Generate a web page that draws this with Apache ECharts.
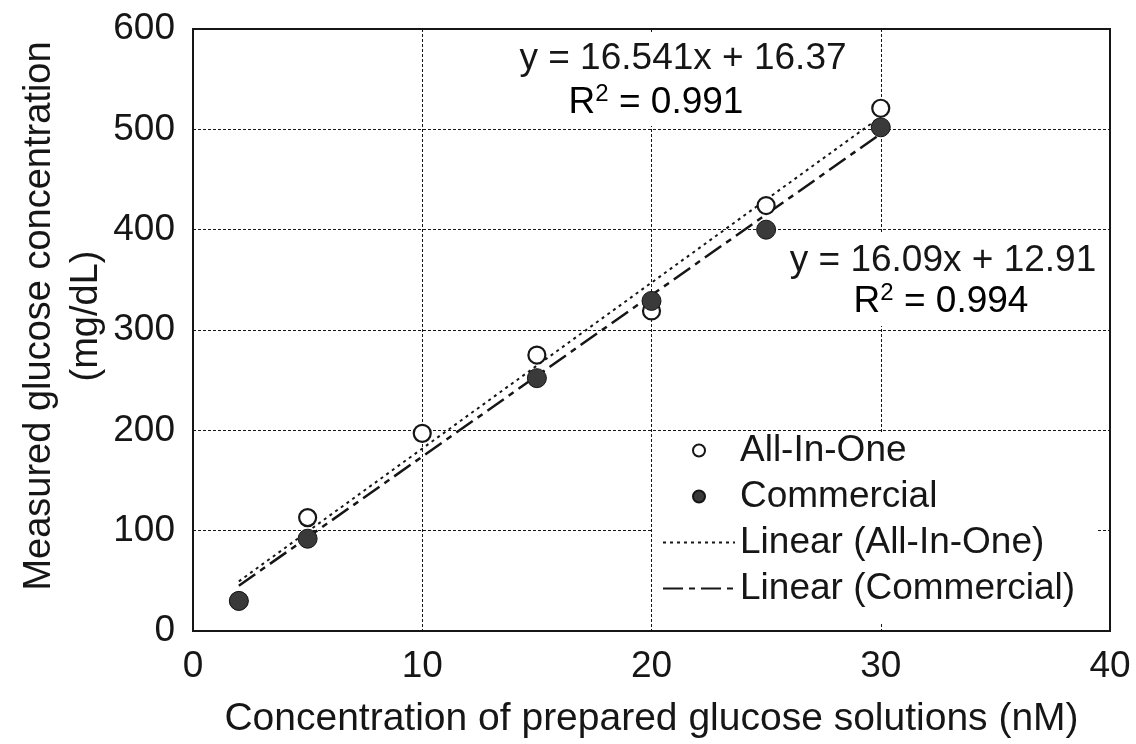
<!DOCTYPE html>
<html>
<head>
<meta charset="utf-8">
<script src="https://cdn.jsdelivr.net/npm/echarts@6/dist/echarts.min.js"></script>
<style>
html,body{margin:0;padding:0;background:#fff;}
#chart{width:1136px;height:744px;}
</style>
</head>
<body>
<div id="chart"></div>
<script>
// ---- data ----
const aioX = [2, 5, 10, 15, 20, 25, 30];
const aioY = [30, 113, 197, 275, 319, 424, 521];
const comX = [2, 5, 15, 20, 25, 30];
const comY = [30, 92, 252, 329, 400, 502];
const trendX = [2, 30];
const aioTrendY = [49.5, 512.6];
const comTrendY = [45.1, 495.6];
const xTicks = [0, 10, 20, 30, 40];
const yTicks = [0, 100, 200, 300, 400, 500, 600];
const seriesNames = ['All-In-One', 'Commercial', 'Linear (All-In-One)', 'Linear (Commercial)'];
const eq1 = ['y = 16.541x + 16.37', '0.991'];
const eq2 = ['y = 16.09x + 12.91', '0.994'];

const FONT = 'Liberation Sans, Arial, sans-serif';
const INK = '#161616';
const pairs = (xs, ys) => xs.map((x, i) => [x, ys[i]]);

const chart = echarts.init(document.getElementById('chart'));

const r2Rich = {
  b: {fontSize: 37, fontFamily: FONT, color: INK, lineHeight: 40},
  s: {fontSize: 24, fontFamily: FONT, color: INK, lineHeight: 40, padding: [0, 0, 18, 0]}
};

chart.setOption({
  animation: false,
  backgroundColor: '#fff',
  grid: {left: 193, right: 26, top: 29, bottom: 113, show: true, borderColor: INK, borderWidth: 2, backgroundColor: 'transparent', containLabel: false, outerBoundsMode: 'none'},
  xAxis: {
    type: 'value', min: xTicks[0], max: xTicks[xTicks.length - 1], interval: 10,
    axisLine: {show: false}, axisTick: {show: false},
    splitLine: {show: true, lineStyle: {color: INK, width: 1, type: [3, 2]}},
    axisLabel: {fontSize: 37, fontFamily: FONT, color: INK, margin: 17},
    name: 'Concentration of prepared glucose solutions (nM)', nameLocation: 'middle', nameGap: 69,
    nameTextStyle: {fontSize: 39, fontFamily: FONT, color: INK}
  },
  yAxis: {
    type: 'value', min: yTicks[0], max: yTicks[yTicks.length - 1], interval: 100,
    axisLine: {show: false}, axisTick: {show: false},
    splitLine: {show: true, lineStyle: {color: INK, width: 1, type: [3, 2]}},
    axisLabel: {fontSize: 37, fontFamily: FONT, color: INK, margin: 18}
  },
  legend: {
    left: 652, top: 432, orient: 'vertical',
    backgroundColor: '#fff', padding: [0, 22, 15, 10],
    itemWidth: 72, itemHeight: 12, itemGap: 9,
    data: [
      {name: seriesNames[0], icon: 'circle'},
      {name: seriesNames[1], icon: 'circle'},
      {name: seriesNames[2], itemStyle: {opacity: 0}},
      {name: seriesNames[3], itemStyle: {opacity: 0}}
    ],
    textStyle: {fontSize: 37, fontFamily: FONT, color: INK, lineHeight: 30}
  },
  graphic: [
    {type: 'rect', z: 1, shape: {x: 520, y: 33, width: 330, height: 93}, style: {fill: '#fff'}},
    {type: 'rect', z: 1, shape: {x: 785, y: 233, width: 318, height: 93}, style: {fill: '#fff'}},
    {type: 'text', z: 2, x: 683, y: 59, style: {text: eq1[0], font: '37px ' + FONT, fill: INK, align: 'center', verticalAlign: 'middle'}},
    {type: 'text', z: 2, x: 656, y: 103, style: {text: '{b|R}{s|2}{b| = ' + eq1[1] + '}', rich: r2Rich, align: 'center', verticalAlign: 'middle'}},
    {type: 'text', z: 2, x: 943, y: 261, style: {text: eq2[0], font: '37px ' + FONT, fill: INK, align: 'center', verticalAlign: 'middle'}},
    {type: 'text', z: 2, x: 941, y: 302, style: {text: '{b|R}{s|2}{b| = ' + eq2[1] + '}', rich: r2Rich, align: 'center', verticalAlign: 'middle'}},
    {type: 'text', z: 2, x: 40, y: 316, rotation: Math.PI / 2, style: {text: 'Measured glucose concentration', font: '38px ' + FONT, fill: INK, align: 'center', verticalAlign: 'middle'}},
    {type: 'text', z: 2, x: 87, y: 316, rotation: Math.PI / 2, style: {text: '(mg/dL)', font: '38px ' + FONT, fill: INK, align: 'center', verticalAlign: 'middle'}}
  ],
  series: [
    {
      name: seriesNames[2], type: 'line', data: pairs(trendX, aioTrendY), symbol: 'none', z: 3,
      lineStyle: {color: INK, width: 2, type: [3, 4]}, itemStyle: {color: INK}
    },
    {
      name: seriesNames[3], type: 'line', data: pairs(trendX, comTrendY), symbol: 'none', z: 3,
      lineStyle: {color: INK, width: 2.5, type: [20, 6, 6, 6]}, itemStyle: {color: INK}
    },
    {
      name: seriesNames[0], type: 'scatter', data: pairs(aioX, aioY), symbol: 'circle', symbolSize: 17, z: 4,
      itemStyle: {color: '#fff', borderColor: INK, borderWidth: 2.2, opacity: 1}
    },
    {
      name: seriesNames[1], type: 'scatter', data: pairs(comX, comY), symbol: 'circle', symbolSize: 19, z: 5,
      itemStyle: {color: '#3a3a3a', borderColor: INK, borderWidth: 1, opacity: 1}
    }
  ]
});
</script>
</body>
</html>
